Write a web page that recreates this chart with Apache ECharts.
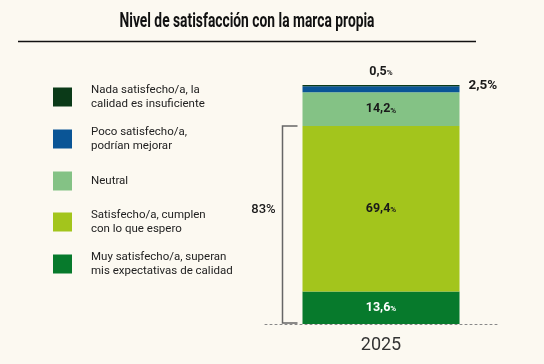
<!DOCTYPE html>
<html>
<head>
<meta charset="utf-8">
<script src="https://cdn.jsdelivr.net/npm/echarts@6/dist/echarts.min.js"></script>
<style>
html,body{margin:0;padding:0;background:#fcf9f1;}
#c{width:544px;height:364px;}
</style>
</head>
<body>
<div id="c"></div>
<script>
// ---- data ----
const categories = ['2025'];
const seriesNames = [
  'Muy satisfecho/a, superan\nmis expectativas de calidad',
  'Satisfecho/a, cumplen\ncon lo que espero',
  'Neutral',
  'Poco satisfecho/a,\npodrían mejorar',
  'Nada satisfecho/a, la\ncalidad es insuficiente'
];
const muyValues = [13.6];
const satisfechoValues = [69.4];
const neutralValues = [14.2];
const pocoValues = [2.5];
const nadaValues = [0.5];
const colors = ['#077a2c', '#a3c51c', '#84c285', '#0a5596', '#0b3a18'];
const titleText = 'Nivel de satisfacción con la marca propia';

const allValues = [muyValues, satisfechoValues, neutralValues, pocoValues, nadaValues];
const total = allValues.reduce((s, a) => s + a[0], 0);
const satisfiedTotal = muyValues[0] + satisfechoValues[0];

const fmt = v => v.toFixed(1).replace('.', ',');
const FONT = 'Roboto';

const chart = echarts.init(document.getElementById('c'));

const labelCfg = [
  {position: 'inside', color: '#ffffff'},
  {position: 'inside', color: '#1a1a1a'},
  {position: 'inside', color: '#1a1a1a'},
  {position: 'right', distance: 9, offset: [0, -4], color: '#1a1a1a', big: true},
  {position: 'top', distance: 7, color: '#1a1a1a'}
];

const series = allValues.map((vals, i) => {
  const lc = labelCfg[i];
  return {
    name: seriesNames[i],
    type: 'bar',
    stack: 's',
    data: vals,
    barWidth: 157,
    itemStyle: {color: colors[i]},
    emphasis: {disabled: true},
    label: {
      show: true,
      position: lc.position,
      distance: lc.distance,
      offset: lc.offset,
      formatter: p => lc.big ? '{b|' + fmt(p.value) + '%}' : '{v|' + fmt(p.value) + '}{p|%}',
      rich: {
        v: {fontFamily: FONT, fontSize: 12.5, fontWeight: 'bold', color: lc.color},
        p: {fontFamily: FONT, fontSize: 8, fontWeight: 'bold', color: lc.color, padding: [3, 0, 0, 0]},
        b: {fontFamily: FONT, fontSize: 13.5, fontWeight: 'bold', color: lc.color}
      }
    }
  };
});

// legend: top-to-bottom order
const legendOrder = [4, 3, 2, 1, 0];
const legendCenters = [97, 139, 181, 222, 264];
const LH = 14;
const legends = legendOrder.map((si, k) => {
  const lines = seriesNames[si].split('\n').length;
  const h = Math.max(19, lines * LH);
  return {
    data: [seriesNames[si]],
    orient: 'vertical',
    left: 53,
    top: legendCenters[k] - h / 2,
    padding: 0,
    itemWidth: 19,
    itemHeight: 19,
    itemGap: 0,
    icon: 'rect',
    selectedMode: false,
    textStyle: {fontFamily: FONT, fontSize: 11.5, color: '#222', lineHeight: LH, padding: [0, 0, 0, 14]}
  };
});

chart.setOption({
  backgroundColor: '#fcf9f1',
  animation: false,
  legend: legends,
  grid: {left: 265, right: 47, top: 85, bottom: 40},
  xAxis: {
    type: 'category',
    data: categories,
    axisLine: {show: true, lineStyle: {color: '#888', type: [2, 3], width: 1}},
    axisTick: {show: false},
    axisLabel: {fontFamily: FONT, fontSize: 18, color: '#333', margin: 12}
  },
  yAxis: {type: 'value', min: 0, max: total, show: false, splitLine: {show: false}},
  series: series
});

// condensed title: measure and squeeze horizontally
const TITLE_SIZE = 20;
const cv = document.createElement('canvas').getContext('2d');
cv.font = 'bold ' + TITLE_SIZE + 'px Roboto';
const tw = cv.measureText(titleText).width;
const titleScale = 255 / tw;

// bracket from data-derived pixel positions
const top83 = chart.convertToPixel({gridIndex: 0}, [0, satisfiedTotal]);
const base = chart.convertToPixel({gridIndex: 0}, [0, 0]);
const barLeft = top83[0] - 157 / 2;
const bx = barLeft - 20;
const tickEnd = barLeft - 5;

chart.setOption({
  graphic: [
    {type: 'text', x: 247, y: 22, scaleX: titleScale, style: {text: titleText, fontFamily: 'Roboto', fontWeight: 'bold', fontSize: TITLE_SIZE, fill: '#111', align: 'center', verticalAlign: 'middle'}},
    {type: 'line', shape: {x1: 18, y1: 41.5, x2: 476, y2: 41.5}, style: {stroke: '#111', lineWidth: 1.3}},
    {type: 'polyline', shape: {points: [[tickEnd, top83[1]], [bx, top83[1]], [bx, base[1] - 1], [tickEnd, base[1] - 1]]}, style: {stroke: '#666', lineWidth: 1.5, fill: null}},
    {type: 'text', x: bx - 19, y: (top83[1] + base[1]) / 2 - 15, style: {text: Math.round(satisfiedTotal) + '%', fontFamily: FONT, fontSize: 13, fontWeight: 500, fill: '#1a1a1a', align: 'center', verticalAlign: 'middle'}}
  ]
});
</script>
</body>
</html>
